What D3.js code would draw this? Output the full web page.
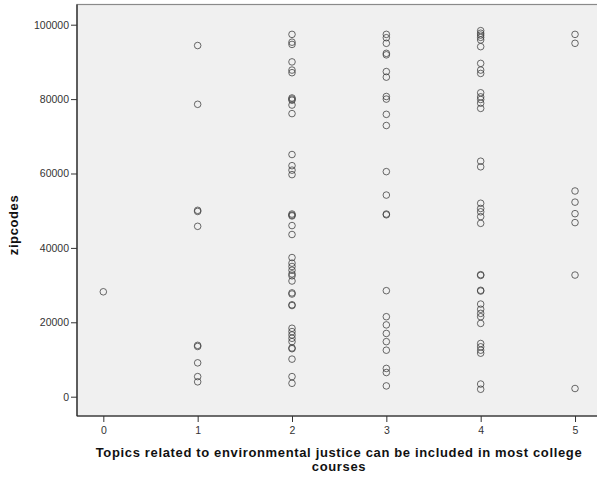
<!DOCTYPE html>
<html>
<head>
<meta charset="utf-8">
<script src="https://cdn.jsdelivr.net/npm/d3@7/dist/d3.min.js"></script>
<style>
  html, body { margin: 0; padding: 0; background: #ffffff; }
  svg { display: block; }
  text { font-family: "Liberation Sans", Arial, sans-serif; }
</style>
</head>
<body>
<svg id="chart" width="597" height="482"></svg>
<script>
// ---- data ----
const categories = [0, 1, 2, 3, 4, 5];
const xTickLabels = ["0", "1", "2", "3", "4", "5"];
const yTickValues = [0, 20000, 40000, 60000, 80000, 100000];

const zips0 = [28200];
const zips1 = [94400, 78600, 50100, 49800, 45800, 13800, 13500, 9100, 5400, 4000];
const zips2 = [97400, 95300, 94700, 90000, 87800, 87100, 80300, 80000, 79700, 78400, 76100,
               65100, 62100, 60900, 59700, 49100, 48800, 48600, 46000, 43600,
               37400, 35900, 35000, 34000, 33000, 32500, 31100, 27900, 27600, 24700, 24500,
               18400, 17500, 16600, 15700, 14800, 13100, 12900, 10100, 5400, 3600];
const zips3 = [97400, 96500, 95000, 92300, 91900, 87400, 85900, 80700, 80000, 75900, 72900,
               60500, 54200, 49100, 48900, 28500, 21500, 19300, 17000, 14800, 12500,
               7600, 6500, 2900];
const zips4 = [98400, 97700, 97200, 96600, 95900, 94100, 89600, 87800, 86900,
               81700, 80600, 79900, 78900, 77500, 63300, 61800,
               52000, 50600, 49700, 48400, 46600, 32800, 32600, 28600, 28400,
               24900, 23500, 22400, 21500, 19700, 14300, 13400, 12500, 11700, 3400, 2000];
const zips5 = [97400, 95000, 55300, 52300, 49200, 46800, 32700, 2200];

const seriesByCategory = [zips0, zips1, zips2, zips3, zips4, zips5];
const xTitle = ["Topics related to environmental justice can be included in most college", "courses"];
const yTitle = "zipcodes";

// ---- layout ----
const svg = d3.select("#chart");
const plot = { left: 77, top: 4.5, right: 600, bottom: 416 };

const x = d3.scaleLinear().domain([-0.279, 5.233]).range([plot.left, 597]);
const y = d3.scaleLinear().domain([-5190, 105430]).range([plot.bottom, plot.top]);

// plot background
svg.append("rect")
  .attr("x", plot.left).attr("y", plot.top)
  .attr("width", plot.right - plot.left).attr("height", plot.bottom - plot.top)
  .attr("fill", "#f0f0f0").attr("stroke", "#8a8a8a").attr("stroke-width", 1.2);

// points
const points = [];
seriesByCategory.forEach((arr, i) => arr.forEach(v => points.push({ c: categories[i], v })));
svg.append("g").selectAll("circle").data(points).join("circle")
  .attr("cx", d => x(d.c)).attr("cy", d => y(d.v)).attr("r", 3.3)
  .attr("fill", "none").attr("stroke", "#3a3a3a").attr("stroke-opacity", 0.75).attr("stroke-width", 1);

// y axis
const yAxis = svg.append("g").attr("transform", `translate(${plot.left},0)`)
  .call(d3.axisLeft(y).tickValues(yTickValues).tickFormat(d3.format("d")).tickSize(6).tickPadding(2));
yAxis.select(".domain").attr("stroke", "#222").attr("stroke-width", 1.2)
  .attr("d", `M0,${plot.top}V${plot.bottom}`);
yAxis.selectAll(".tick line").attr("stroke", "#333");
yAxis.selectAll(".tick text").attr("font-size", 10.5).attr("fill", "#333")
  .style("font-family", "'Liberation Sans', Arial, sans-serif");

// x axis
const xAxis = svg.append("g").attr("transform", `translate(0,${plot.bottom})`)
  .call(d3.axisBottom(x).tickValues(categories).tickFormat((d, i) => xTickLabels[i]).tickSize(6).tickPadding(5));
xAxis.select(".domain").attr("stroke", "#222").attr("stroke-width", 1.2)
  .attr("d", `M${plot.left},0H597`);
xAxis.selectAll(".tick line").attr("stroke", "#333");
xAxis.selectAll(".tick text").attr("font-size", 10.5).attr("fill", "#333")
  .style("font-family", "'Liberation Sans', Arial, sans-serif");

// axis titles
svg.append("text")
  .attr("transform", "translate(18,225) rotate(-90)")
  .attr("text-anchor", "middle")
  .attr("font-size", 13).attr("font-weight", "bold").attr("fill", "#111")
  .attr("letter-spacing", 0.6)
  .text(yTitle);

xTitle.forEach((line, i) => {
  svg.append("text")
    .attr("x", 339).attr("y", 457 + i * 14)
    .attr("text-anchor", "middle")
    .attr("font-size", 13).attr("font-weight", "bold").attr("fill", "#111")
    .attr("letter-spacing", 0.65)
    .text(line);
});
</script>
</body>
</html>
